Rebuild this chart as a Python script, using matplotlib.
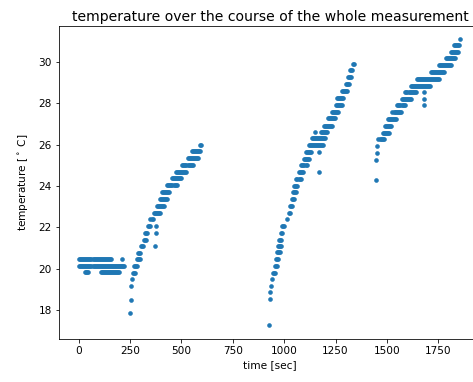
import numpy as np
import matplotlib
matplotlib.use("Agg")
import matplotlib.pyplot as plt

# Run-length readings: each run = one temperature level held from t_start to t_end (sec)
SAMPLE_DT = 5

seg1_levels = [20.45, 20.45, 20.15, 19.85, 19.85,
               17.86, 18.5, 19.16, 19.5, 19.8, 20.13, 20.45, 20.77, 21.1, 21.4, 21.75,
               22.07, 22.4, 22.7, 23.03, 23.37, 23.7, 24.05, 24.4, 24.7, 25.0, 25.35,
               25.7, 26.0, 21.1, 21.75, 22.07]
seg1_start = [3, 211, 3, 30, 108,
              251, 255, 255, 259, 264, 270, 283, 290, 303, 316, 324,
              336, 350, 365, 383, 395, 407, 432, 453, 472, 505, 530,
              553, 590, 373, 375, 375]
seg1_end = [160, 211, 225, 47, 200,
            251, 255, 255, 262, 278, 285, 300, 300, 316, 328, 336,
            348, 362, 395, 420, 432, 444, 477, 500, 525, 558, 580,
            595, 597, 373, 375, 375]

seg2_levels = [17.26, 18.53, 18.88, 19.16, 19.48, 19.8, 20.13, 20.45, 20.8, 21.1,
               21.4, 21.75, 22.07, 22.4, 22.7, 23.05, 23.37, 23.7, 24.0, 24.35,
               24.67, 25.0, 25.33, 25.65, 25.98, 26.3, 26.63, 26.63, 26.92, 27.28,
               27.6, 27.9, 28.27, 28.6, 28.94, 29.25, 29.6, 29.9, 24.67, 25.65]
seg2_start = [925, 932, 933, 935, 940, 946, 955, 960, 965, 970,
              977, 985, 990, 1014, 1022, 1030, 1038, 1043, 1050, 1060,
              1073, 1084, 1097, 1108, 1121, 1134, 1149, 1178, 1193, 1212,
              1234, 1250, 1258, 1280, 1301, 1312, 1322, 1333, 1168, 1168]
seg2_end = [925, 932, 933, 935, 940, 958, 965, 970, 980, 985,
            990, 993, 1000, 1018, 1030, 1040, 1050, 1058, 1069, 1080,
            1093, 1113, 1122, 1133, 1192, 1200, 1149, 1210, 1234, 1250,
            1267, 1284, 1292, 1309, 1317, 1330, 1335, 1338, 1168, 1168]

seg3_levels = [24.3, 25.25, 25.6, 25.95, 26.26, 26.58, 26.9, 27.25, 27.57, 27.9,
               28.2, 28.55, 28.85, 29.2, 29.5, 29.85, 30.17, 30.48, 30.8, 31.1,
               27.9, 28.2, 28.55]
seg3_start = [1447, 1447, 1450, 1452, 1459, 1479, 1492, 1506, 1527, 1551,
              1572, 1590, 1615, 1644, 1713, 1754, 1786, 1810, 1827, 1856,
              1679, 1679, 1679]
seg3_end = [1447, 1447, 1450, 1452, 1488, 1511, 1526, 1547, 1569, 1588,
            1617, 1640, 1712, 1754, 1782, 1815, 1832, 1847, 1856, 1860,
            1679, 1679, 1679]


def expand(levels, starts, ends):
    ts, vs = [], []
    for v, a, b in zip(levels, starts, ends):
        t = np.arange(a, b + 0.01, SAMPLE_DT) if b > a else np.array([a])
        ts.extend(t)
        vs.extend([v] * len(t))
    return ts, vs


time, temp = [], []
for lv, st, en in [(seg1_levels, seg1_start, seg1_end),
                   (seg2_levels, seg2_start, seg2_end),
                   (seg3_levels, seg3_start, seg3_end)]:
    t, v = expand(lv, st, en)
    time += t
    temp += v

W, H, DPI = 473, 382, 72
fig = plt.figure(figsize=(W / DPI, H / DPI), dpi=DPI)
# axes extends past the right border (reference image is cropped there)
left_px, right_px, top_px, bottom_px = 58.8, 481.5, 26, 339
ax = fig.add_axes([left_px / W, 1 - bottom_px / H,
                   (right_px - left_px) / W, (bottom_px - top_px) / H])
ax.scatter(time, temp, s=15, linewidths=0.6, color="#1f77b4")
ax.set_xlim(-96, 1960)
ax.set_ylim(16.6, 31.74)
ax.set_xticks([0, 250, 500, 750, 1000, 1250, 1500, 1750])
ax.set_yticks([18, 20, 22, 24, 26, 28, 30])
ax.tick_params(labelsize=10.5)
ax.set_title("temperature over the course of the whole measurement", fontsize=14, pad=5)
ax.set_xlabel("time [sec]", fontsize=10.5)
ax.set_ylabel(r"temperature [$^\circ$ C]", fontsize=10.5, labelpad=8)
fig.savefig("out.png", dpi=DPI)
